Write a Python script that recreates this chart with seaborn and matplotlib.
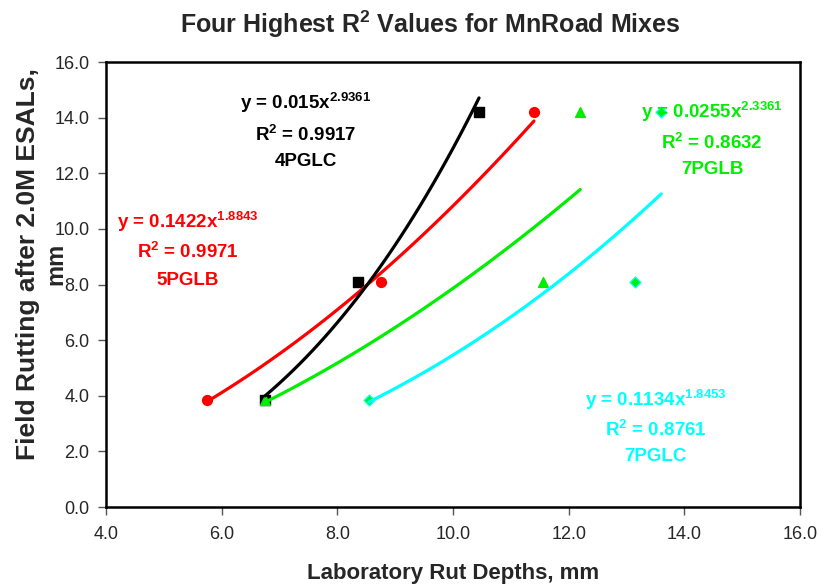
import numpy as np
import pandas as pd
import matplotlib
matplotlib.use("Agg")
import matplotlib.pyplot as plt
import seaborn as sns

# data
mixes = ["5PGLB", "4PGLC", "7PGLB", "7PGLC"]
field_rut = [3.85, 8.1, 14.2]
lab_5pglb = [5.75, 8.75, 11.4]
lab_4pglc = [6.75, 8.35, 10.45]
lab_7pglb = [6.75, 11.55, 12.2]
lab_7pglc = [8.55, 13.15, 13.6]

eq_labels = {
    "5PGLB": ("0.1422", "1.8843", "0.9971"),
    "4PGLC": ("0.015", "2.9361", "0.9917"),
    "7PGLB": ("0.0255", "2.3361", "0.8632"),
    "7PGLC": ("0.1134", "1.8453", "0.8761"),
}

colors = {"5PGLB": "#ff0000", "4PGLC": "#000000", "7PGLB": "#00ee00", "7PGLC": "#00ffff"}
markers = {"5PGLB": "o", "4PGLC": "s", "7PGLB": "^", "7PGLC": "D"}

lab_values = [lab_5pglb, lab_4pglc, lab_7pglb, lab_7pglc]
rows = []
for mix, labs in zip(mixes, lab_values):
    for lx, fy in zip(labs, field_rut):
        rows.append({"mix": mix, "lab": lx, "field": fy})
df = pd.DataFrame(rows)

# power trendlines (fit in log space, like Excel)
fit_rows = []
for mix, labs in zip(mixes, lab_values):
    b, lna = np.polyfit(np.log(labs), np.log(field_rut), 1)
    xs = np.linspace(min(labs), max(labs), 60)
    for xv in xs:
        fit_rows.append({"mix": mix, "lab": xv, "field": np.exp(lna) * xv ** b})
fits = pd.DataFrame(fit_rows)

sns.set_style("white")
plt.rcParams["font.family"] = ["Liberation Sans", "DejaVu Sans"]
plt.rcParams["mathtext.fontset"] = "custom"
plt.rcParams["mathtext.rm"] = "Liberation Sans"
plt.rcParams["mathtext.bf"] = "Liberation Sans:bold"

fig = plt.figure(figsize=(8.24, 5.84), dpi=100)
ax = fig.add_axes([0.1286, 0.1318, 0.8423, 0.762])

for mix in mixes:
    sub = df[df["mix"] == mix]
    edge = "#00ffff" if mix == "7PGLC" else colors[mix]
    face = "#00ee00" if mix == "7PGLC" else colors[mix]
    size = 30 if mix == "7PGLC" else 50
    sns.scatterplot(data=sub, x="lab", y="field", marker=markers[mix], s=size,
                    color=face, edgecolor=edge, linewidth=1, ax=ax, legend=False)

sns.lineplot(data=fits, x="lab", y="field", hue="mix", palette=colors,
             linewidth=2.3, ax=ax, legend=False, sort=False)

ax.set_xlim(4, 16)
ax.set_ylim(0, 16)
ax.set_xticks(np.arange(4, 16.1, 2))
ax.set_yticks(np.arange(0, 16.1, 2))
ax.set_xticklabels([f"{v:.1f}" for v in np.arange(4, 16.1, 2)])
ax.set_yticklabels([f"{v:.1f}" for v in np.arange(0, 16.1, 2)])
ax.tick_params(axis="both", direction="out", length=6, width=1, labelsize=13,
               left=True, bottom=True, color="#555555")
ax.tick_params(axis="x", pad=8)
ax.tick_params(axis="y", pad=6)
for sp in ax.spines.values():
    sp.set_color("black")
    sp.set_linewidth(1.8)

ax.set_title(r"Four Highest R$^{\bf 2}$ Values for MnRoad Mixes", fontsize=18,
             fontweight="bold", pad=21, x=0.467)
ax.set_xlabel("Laboratory Rut Depths, mm", fontsize=16, fontweight="bold", labelpad=14)
ax.set_ylabel("Field Rutting after 2.0M ESALs,", fontsize=19, fontweight="bold")
ax.yaxis.set_label_coords(-0.095, 0.546)
# second line of the y label sits right next to the tick labels
ax.text(-0.072, 0.546, "mm", transform=ax.transAxes, rotation=90, fontsize=17,
        fontweight="bold", ha="center", va="center")

# equation labels
label_pos = {
    "4PGLC": (7.46, [14.53, 13.38, 12.41]),
    "5PGLB": (5.42, [10.25, 9.17, 8.16]),
    "7PGLB": (14.48, [14.2, 13.12, 12.12]),
    "7PGLC": (13.5, [3.85, 2.77, 1.80]),
}
for mix in mixes:
    a, b, r2 = eq_labels[mix]
    xc, ys = label_pos[mix]
    texts = [f"y = {a}x$^{{\\bf {b}}}$", f"R$^{{\\bf 2}}$ = {r2}", mix]
    for t, yv in zip(texts, ys):
        ax.text(xc, yv, t, color=colors[mix], fontsize=13.5, fontweight="bold",
                ha="center", va="center")

fig.savefig("out.png", dpi=100)
